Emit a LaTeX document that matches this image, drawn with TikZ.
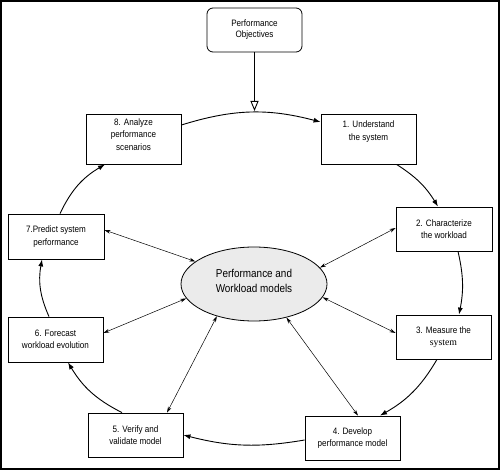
\documentclass[tikz,border=0pt]{standalone}
\usepackage{fontspec}
\setmainfont{Liberation Sans}[FakeStretch=0.87]
\newfontfamily\seriffont{Liberation Serif}
\usetikzlibrary{arrows.meta,shapes.geometric}
\tikzset{
  stepbox/.style={draw, line width=0.8pt, rectangle, minimum width=95pt, minimum height=44pt, align=center, inner sep=1pt, font=\fontsize{9.3}{12.5}\selectfont},
  cyc/.style={draw, line width=0.9pt, -{Latex[length=7pt,width=5pt]}},
  link/.style={draw, line width=0.5pt, {Stealth[length=6pt,width=3.6pt]}-{Stealth[length=6pt,width=3.6pt]}},
}
\begin{document}
\begin{tikzpicture}[x=1pt,y=-1pt]
\useasboundingbox (0,0) rectangle (500,470);
\draw[line width=1.2pt] (1,1) rectangle (499,469);

\node[stepbox, rounded corners=6pt, font=\fontsize{9.3}{11}\selectfont] (po) at (254.5,30) {Performance\\Objectives};
\node[stepbox, minimum height=50pt] (b8) at (133.5,139) {8. Analyze\\performance\\scenarios\\[-3.5pt]\mbox{}};
\node[stepbox, minimum height=50pt] (b1) at (368.5,139) {1. Understand\\the system\\[4.5pt]\mbox{}};
\node[stepbox, minimum width=96pt] (b2) at (444,229) {2. Characterize\\the workload};
\node[stepbox, minimum width=96pt, minimum height=45pt] (b7) at (56,236.5) {7.Predict system\\performance};
\node[draw, line width=0.8pt, ellipse, fill=black!8, minimum width=146pt, minimum height=74pt, align=center, inner sep=0pt, font=\fontsize{11.4}{15}\selectfont] (e) at (254,284) {Performance and\\Workload models\\[-8pt]\mbox{}};
\node[stepbox] (b3) at (443.5,337) {3. Measure the\\{\seriffont\fontsize{9.8}{12.5}\selectfont system}};
\node[stepbox, minimum height=45pt] (b6) at (55.5,339.5) {6. Forecast\\workload evolution};
\node[stepbox] (b5) at (135.5,435) {5. Verify and\\validate model};
\node[stepbox] (b4) at (352.5,438) {4. Develop\\performance model};

\coordinate (poin) at (254.5,111);
\draw[line width=0.9pt, -{Triangle[open,length=10pt,width=8pt]}] (po.south) -- (poin);

\draw[cyc] ([yshift=14pt]b8.east) to[bend left=16] ([yshift=17pt]b1.west);
\draw[cyc] ([xshift=28pt]b1.south) to[bend left=13] ([xshift=-6pt]b2.north);
\draw[cyc] ([xshift=14pt]b2.south) to[bend left=12] ([xshift=15.5pt]b3.north);
\draw[cyc] ([xshift=-6.5pt]b3.south) to[bend left=15] ([xshift=27.5pt]b4.north);
\draw[cyc] ([yshift=-2pt]b4.west) to[bend left=12] (b5.east);
\draw[cyc] ([xshift=-13.5pt]b5.north) to[bend left=16] ([xshift=12.5pt]b6.south);
\draw[cyc] ([xshift=-6.5pt]b6.north) to[bend left=17] ([xshift=-14pt]b7.south);
\draw[cyc] ([xshift=4pt]b7.north) to[bend left=17] ([xshift=-28.5pt]b8.south);

\draw[link] ([yshift=6.5pt]b7.east) -- (e.159);
\draw[link] ([yshift=1pt]b2.west) -- (e.14);
\draw[link] ([yshift=6.5pt]b6.east) -- (e.192);
\draw[link] ([yshift=4pt]b3.west) -- (e.349);
\draw[link] ([xshift=31.5pt]b5.north) -- (e.221);
\draw[link] ([xshift=5.5pt]b4.north) -- (e.314);
\end{tikzpicture}
\end{document}
